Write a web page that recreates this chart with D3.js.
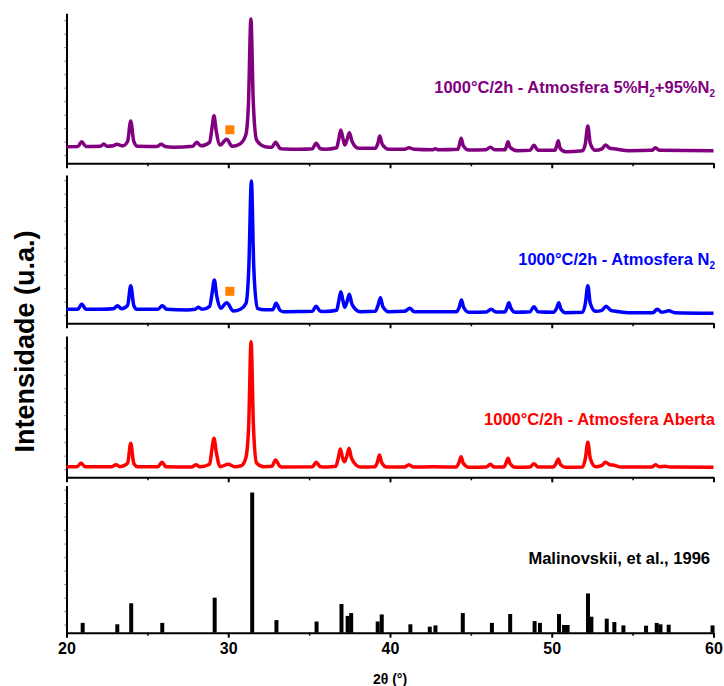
<!DOCTYPE html>
<html><head><meta charset="utf-8">
<script src="https://cdn.jsdelivr.net/npm/d3@7"></script>
<style>
html,body{margin:0;padding:0;background:#fff;}
text{font-family:"Liberation Sans",Arial,sans-serif;font-weight:bold;}
</style></head>
<body><svg id="c" width="724" height="686"></svg>
<script>
// ---------------- DATA ----------------
const xTicksMajor = [20, 30, 40, 50, 60];
const xTicksMinor = [25, 35, 45, 55];

// 5%H2+95%N2 (purple)
const h2n2Theta = [20.0,20.7,20.94,21.2,22.1,22.3,22.5,22.9,23.1,23.5,23.78,23.97,24.16,24.4,25.6,25.85,26.1,26.6,27.8,28.05,28.3,28.85,29.0,29.12,29.25,29.5,29.9,30.25,30.7,31.08,31.25,31.4,31.55,31.76,32.28,32.7,32.92,33.2,33.4,34.44,35.2,35.43,35.7,36.0,36.7,36.83,36.96,37.1,37.2,37.35,37.49,37.65,38.05,39.1,39.25,39.37,39.52,39.93,40.9,41.17,41.5,42.6,42.8,43.0,44.2,44.3,44.4,44.52,44.87,45.9,46.2,46.5,47.1,47.2,47.29,47.42,47.86,48.65,48.9,49.15,50.2,50.3,50.4,50.52,50.85,51.9,52.08,52.23,52.38,52.7,53.1,53.32,53.6,53.94,54.77,56.2,56.41,56.65,60.0];
const h2n2Int   = [16.6,16.8,21.6,16.8,17,19.3,17,17.5,19,17.5,22,42.3,22,17,16.8,19,16.8,16,17,21,17.5,21,36,47.6,33,18.3,24,17,19,28,60,144.3,60,23,16.6,16,21,15,14.3,14,14.5,20,14.5,14,15.5,24,33.3,24,18.3,24,30.6,22,15,15,20,27.3,19,14,14,15.6,14,13.5,14.5,13.5,14,19,25,18,13.3,13.5,16,13.5,13.5,17,21.6,16,12.6,13,18,13,13,17,22.6,15,11.6,12.6,20,37.3,20,13,14.5,18.3,15,14.3,12.6,13,15.6,13,12.6];

// N2 (blue)
const n2Theta = [20.0,20.7,20.94,21.2,22.07,22.9,23.15,23.4,23.78,23.97,24.16,24.34,25.65,25.92,26.2,27.43,27.95,28.15,28.4,28.85,29.0,29.14,29.28,29.53,29.9,30.32,30.75,31.1,31.27,31.43,31.58,31.8,32.27,32.75,32.96,33.2,33.4,34.5,35.2,35.43,35.7,36.0,36.7,36.83,36.96,37.1,37.2,37.35,37.49,37.65,38.15,39.1,39.26,39.41,39.55,39.93,40.9,41.22,41.5,42.6,44.1,44.28,44.42,44.55,44.87,45.95,46.25,46.55,47.1,47.22,47.35,47.48,47.75,48.65,48.9,49.15,50.1,50.3,50.44,50.57,50.85,51.9,52.08,52.23,52.38,52.7,53.1,53.36,53.65,53.94,54.77,56.25,56.52,56.8,57.24,57.6,60.0];
const n2Int   = [14,14,19.3,14,14,14.5,17.6,14.5,18,37.6,18,14,14,17.6,14,13.3,14,16,14,17,30,43.3,28,15,20.6,12.3,14,20,55,142.3,55,15,13.5,13.5,20,13,11.6,11.8,12,17,12,11.8,13,22,31.6,22,16,22,29,19,11.6,12,18,25.6,17,11.6,12,15,11.6,11.5,11.5,16,23.3,16,11,11.3,14,11.3,11.3,15,20.6,15,11,11.5,16.6,11.5,11,15,20.6,14,10.6,11,20,37.6,20,12,13,17,13,12,10.6,10.6,14,11,12.5,10.6,10];

// Atmosfera aberta (red)
const airTheta = [20.0,20.65,20.9,21.15,22.8,23.06,23.3,23.78,23.97,24.16,24.4,25.65,25.9,26.15,27.75,27.99,28.25,28.85,28.99,29.12,29.25,29.5,30.0,30.4,30.8,31.08,31.26,31.41,31.56,31.76,32.2,32.7,32.92,33.2,33.4,35.2,35.43,35.7,36.1,36.65,36.8,36.93,37.06,37.18,37.33,37.47,37.62,38.15,39.05,39.22,39.35,39.48,39.8,40.9,41.17,41.45,42.6,44.1,44.27,44.4,44.53,44.87,45.95,46.2,46.45,47.05,47.17,47.3,47.43,47.75,48.65,48.9,49.15,50.1,50.27,50.4,50.53,50.85,51.9,52.08,52.23,52.38,52.7,53.1,53.32,53.6,53.85,54.3,56.2,56.41,56.65,57.0,57.3,60.0];
const airInt   = [10.6,10.6,14,10.6,10.6,12.6,10.6,14,34,14,10.6,10.6,15,10.6,10.3,12.6,10.5,13,28,39,26,10.6,13,10.6,11.5,19,50,135.6,50,14,10.6,11,17.3,11,10.3,10.5,15,10.5,10.3,11,19,28.3,20,15.6,21,29,19,10.3,10.5,15,22.3,15,10.3,10.3,12.6,10.3,10.5,10.3,15,20.6,14,10,10.3,13,10.3,10.3,14,19,13.5,10,10.3,13.6,10.3,10.3,14,18.3,13,10,10.3,19,35,19,10.6,12,15,12.6,12,10.3,10.3,12.6,10.5,11,10.3,10];

// Reference pattern (Malinovskii, et al., 1996)
const refTheta = [21.0,23.14,24.0,25.92,29.16,31.48,32.98,35.46,37.0,37.38,37.6,39.24,39.49,41.26,42.46,42.81,44.5,46.3,47.43,48.94,49.27,50.45,50.76,50.98,52.24,52.45,53.4,53.87,54.43,55.83,56.49,56.72,57.23,59.94];
const refInt   = [7,6,21,7,25,100,9,8,20.5,12,14,8,13,6,4.3,5.2,14,7,13.3,8.3,7,13.3,5.5,5.5,28,11.4,10,7.6,5.2,5,7,6,5.7,5.2];

// Orange square markers (secondary phase)
const markTheta = [30.1];
const markH2N2 = [33.5];
const markN2 = [32];

const labels = ["1000°C/2h - Atmosfera 5%H", "1000°C/2h - Atmosfera N", "1000°C/2h - Atmosfera Aberta", "Malinovskii, et al., 1996"];

// ---------------- LAYOUT ----------------
const svg = d3.select("#c");
const x = d3.scaleLinear().domain([20, 60]).range([66.5, 713.5]);
const panels = [
  {top: 13.3, bottom: 163.3, color: "#800080"},
  {top: 175, bottom: 323.3, color: "#0000FF"},
  {top: 336, bottom: 477.3, color: "#FF0000"},
  {top: 485.5, bottom: 632.7, color: "#000000"}
];
panels.forEach(p => {
  p.y = d3.scaleLinear().domain([0, p.bottom - p.top]).range([p.bottom, p.top]);
});
panels[3].y = d3.scaleLinear().domain([0, 105]).range([panels[3].bottom, panels[3].top]);

function drawAxes(p, i) {
  const g = svg.append("g");
  const minor = g.append("g").attr("transform", `translate(0,${p.bottom})`)
    .call(d3.axisBottom(x).tickValues(xTicksMinor).tickSize(3).tickSizeOuter(0).tickFormat(""));
  minor.select(".domain").remove();
  minor.selectAll("line").attr("stroke", "#000").attr("stroke-width", 1.5);
  const major = g.append("g").attr("transform", `translate(0,${p.bottom})`)
    .call(d3.axisBottom(x).tickValues(xTicksMajor).tickSize(5).tickSizeOuter(0).tickPadding(5)
      .tickFormat(i === 3 ? d3.format("d") : ""));
  major.select(".domain").attr("stroke", "#000").attr("stroke-width", 2);
  major.selectAll("line").attr("stroke", "#000").attr("stroke-width", 2);
  major.selectAll("text").attr("fill", "#000").style("font-size", "16px")
    .style("font-family", '"Liberation Sans", Arial, sans-serif').style("font-weight", "bold");
  const [d0, d1] = p.y.domain();
  const step = (d1 - d0) * 13.5 / (p.bottom - p.top);
  const left = g.append("g").attr("transform", `translate(${x(20)},0)`)
    .call(d3.axisLeft(p.y).tickValues(d3.range(d0 + step * 0.6, d1, step)).tickSize(2).tickSizeOuter(0).tickFormat(""));
  left.select(".domain").attr("stroke", "#000").attr("stroke-width", 2);
  left.selectAll("line").attr("stroke", "#666").attr("stroke-width", 1);
}
panels.forEach(drawAxes);

// traces
const traces = [
  {theta: h2n2Theta, val: h2n2Int, p: panels[0]},
  {theta: n2Theta, val: n2Int, p: panels[1]},
  {theta: airTheta, val: airInt, p: panels[2]}
];
traces.forEach(t => {
  const pts = t.theta.map((d, i) => [d, t.val[i]]);
  const line = d3.line().x(d => x(d[0])).y(d => t.p.y(d[1])).curve(d3.curveMonotoneX);
  svg.append("path").attr("d", line(pts)).attr("fill", "none")
    .attr("stroke", t.p.color).attr("stroke-width", 3.5).attr("stroke-linejoin", "round");
});

// reference sticks
const p4 = panels[3];
svg.append("g").selectAll("rect").data(refTheta).join("rect")
  .attr("x", d => x(d) - 2).attr("width", 4)
  .attr("y", (d, i) => p4.y(refInt[i])).attr("height", (d, i) => p4.y(0) - p4.y(refInt[i]))
  .attr("fill", "#000");

// orange markers
[[markH2N2, panels[0]], [markN2, panels[1]]].forEach(([vals, p]) => {
  svg.append("g").selectAll("rect").data(markTheta).join("rect")
    .attr("x", d => x(d) - 4.5).attr("y", (d, i) => p.y(vals[i]) - 4.5)
    .attr("width", 9).attr("height", 9).attr("fill", "#FF8000");
});

// series labels
function label(parts, y, color, xr) {
  const t = svg.append("text").attr("x", xr).attr("y", y).attr("text-anchor", "end")
    .attr("fill", color).style("font-size", "16.5px");
  if (Array.isArray(parts)) {
    parts.forEach((s, k) => {
      const ts = t.append("tspan").text(s.text);
      if (s.sub) ts.style("font-size", "10px").attr("dy", 4);
      else if (k > 0) ts.attr("dy", -4);
    });
  } else t.text(parts);
}
label([{text: labels[0]}, {text: "2", sub: true}, {text: "+95%N"}, {text: "2", sub: true}], 93.3, "#800080", 715);
label([{text: labels[1]}, {text: "2", sub: true}], 265, "#0000FF", 715);
label(labels[2], 425, "#FF0000", 715);
label(labels[3], 563.5, "#000000", 710);

// axis titles
svg.append("text").attr("transform", "translate(33.5,341.5) rotate(-90)").attr("text-anchor", "middle")
  .style("font-size", "27px").attr("fill", "#000").text("Intensidade (u.a.)");
svg.append("text").attr("x", 390).attr("y", 683.5).attr("text-anchor", "middle")
  .style("font-size", "14px").attr("fill", "#000").text("2θ (°)");
</script></body></html>
